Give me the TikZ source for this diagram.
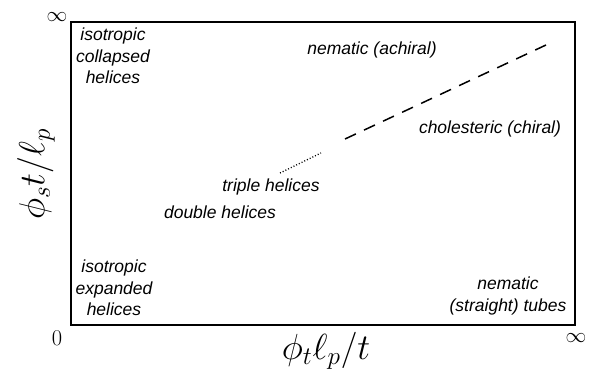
\documentclass[tikz,border=0pt]{standalone}
\usepackage{fontspec}
\newfontfamily\lab{Liberation Sans}
\newcommand{\axtext}[1]{\scalebox{1.75}{\fontsize{20.74}{24}\selectfont$#1$}}
\begin{document}
\begin{tikzpicture}[x=1pt,y=-1pt,
  lbl/.style={font=\lab\itshape\fontsize{17.5}{21.5}\selectfont, align=center, inner sep=0pt},
  axl/.style={inner sep=0pt},
  num/.style={font=\fontsize{22.5}{24}\selectfont, inner sep=0pt},
  frame/.style={line width=1.8pt},
  dashline/.style={line width=1.5pt, dash pattern=on 12pt off 9pt},
  dotline/.style={line width=1.3pt, dash pattern=on 1pt off 2pt}]
\useasboundingbox (0,0) rectangle (597,377);
\draw[frame] (71,22) rectangle (575,325);
\node[lbl] (coll) at (113,56) {isotropic\\collapsed\\helices};
\node[lbl] (expd) at (114,288) {isotropic\\expanded\\helices};
\node[lbl] (nach) at (372,50) {nematic (achiral)};
\node[lbl] (chol) at (490,129) {cholesteric (chiral)};
\node[lbl] (trip) at (271,187) {triple helices};
\node[lbl] (dbl) at (220,212) {double helices};
\node[lbl] (nemt) at (508,296) {nematic\\(straight) tubes};
\coordinate (d1) at (345,139);
\coordinate (d2) at (546,45);
\draw[dashline] (d1) -- (d2);
\coordinate (t1) at (280,173);
\coordinate (t2) at (321,153);
\draw[dotline] (t1) -- (t2);
\node[axl] (xl) at (326,351) {\axtext{\phi_t\ell_p/t}};
\node[axl, rotate=90] (yl) at (36,174) {\axtext{\phi_s t/\ell_p}};
\node[num] (zero) at (57,338) {0};
\node[num] (inf1) at (57,17) {$\infty$};
\node[num] (inf2) at (576,338) {$\infty$};
\end{tikzpicture}
\end{document}
